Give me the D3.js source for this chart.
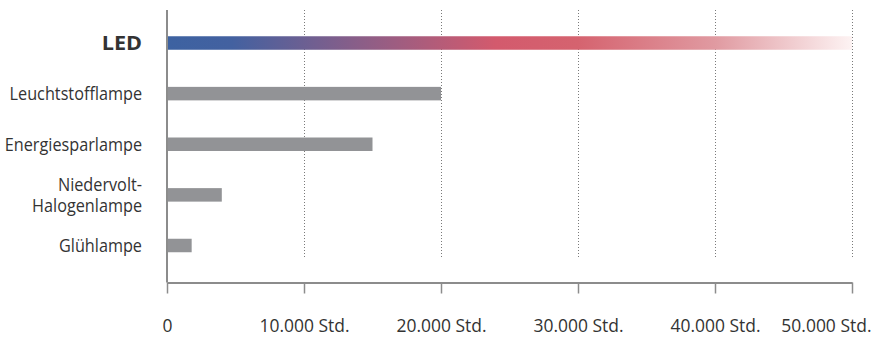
<!DOCTYPE html>
<html>
<head>
<meta charset="utf-8">
<script src="https://cdn.jsdelivr.net/npm/d3@7"></script>
<style>
  html, body { margin: 0; padding: 0; background: #fff; }
  svg { display: block; }
  text { font-family: "Open Sans", sans-serif; fill: #333; }
</style>
</head>
<body>
<svg id="chart" width="874" height="338"></svg>
<script>
// ---- data ----
const categories = ["LED", "Leuchtstofflampe", "Energiesparlampe", "Niedervolt-\nHalogenlampe", "Glühlampe"];
const hours = [50000, 20000, 15000, 4000, 1800];
const tickValues = [0, 10000, 20000, 30000, 40000, 50000];
const tickLabels = ["0", "10.000 Std.", "20.000 Std.", "30.000 Std.", "40.000 Std.", "50.000 Std."];
const gradientStops = [
  [0.00, "#3d62a1"],
  [0.095, "#4361a0"],
  [0.28, "#8a5e88"],
  [0.48, "#d35a6d"],
  [0.60, "#d5636f"],
  [0.80, "#e09aa1"],
  [1.00, "#fdf3f3"]
];

const svg = d3.select("#chart");
const x = d3.scaleLinear().domain([0, 50000]).range([167, 852]);
const y = d3.scalePoint().domain(categories).range([43, 245.5]);
const barH = 13.5;
const axisY = 282.5;

// gradient
const defs = svg.append("defs");
const grad = defs.append("linearGradient").attr("id", "ledGrad")
  .attr("gradientUnits", "userSpaceOnUse")
  .attr("x1", x(0)).attr("x2", x(hours[0])).attr("y1", 0).attr("y2", 0);
grad.selectAll("stop").data(gradientStops).join("stop")
  .attr("offset", d => d[0]).attr("stop-color", d => d[1]);

// grid lines
svg.append("g").selectAll("line").data(tickValues.slice(1)).join("line")
  .attr("x1", d => Math.round(x(d)) + 0.5).attr("x2", d => Math.round(x(d)) + 0.5)
  .attr("y1", 10).attr("y2", 259)
  .attr("stroke", "#7a7a7a").attr("stroke-width", 1).attr("stroke-dasharray", "1,2");

// bars
svg.append("g").selectAll("rect").data(categories).join("rect")
  .attr("x", x(0))
  .attr("y", d => y(d) - barH / 2)
  .attr("width", (d, i) => x(hours[i]) - x(0))
  .attr("height", barH)
  .attr("fill", (d, i) => i === 0 ? "url(#ledGrad)" : "#929396");

// vertical axis line
svg.append("line")
  .attr("x1", x(0)).attr("x2", x(0)).attr("y1", 10).attr("y2", axisY)
  .attr("stroke", "#8c8c8c").attr("stroke-width", 2);

// bottom axis
const xAxis = d3.axisBottom(x).tickValues(tickValues)
  .tickSize(11).tickSizeOuter(0)
  .tickFormat((d, i) => tickLabels[i]);
const gx = svg.append("g").attr("transform", `translate(0,${axisY})`).call(xAxis);
gx.select(".domain").attr("stroke", "#8c8c8c").attr("stroke-width", 2);
gx.selectAll(".tick line").attr("stroke", "#8c8c8c").attr("stroke-width", 1.5);
const tickSX = 0.92;
gx.selectAll(".tick text")
  .attr("y", 49.5).attr("dy", null)
  .attr("transform", `scale(${tickSX},1)`)
  .style("font-family", "'Open Sans', sans-serif")
  .style("font-size", "19px").attr("fill", "#333");
// last label is pulled inside the right edge
gx.selectAll(".tick text").filter((d, i, n) => i === n.length - 1)
  .attr("text-anchor", "end").attr("x", (871 - x(50000)) / tickSX);

// category labels
const labelRight = 142;
const lg = svg.append("g").selectAll("g").data(categories).join("g")
  .attr("transform", (d, i) => `translate(${labelRight},${y(d)}) scale(${i === 0 ? 1.08 : 0.855},1)`);
lg.append("text")
  .attr("text-anchor", "end")
  .style("font-size", (d, i) => i === 0 ? "20px" : "19px")
  .style("font-weight", (d, i) => i === 0 ? "700" : "400")
  .each(function(d) {
    const lines = d.split("\n");
    const t = d3.select(this);
    const lh = 1.14;
    const off = -(lines.length - 1) / 2 * lh;
    lines.forEach((ln, j) => {
      t.append("tspan").attr("x", 0)
        .attr("dy", j === 0 ? (off + 0.35) + "em" : lh + "em")
        .text(ln);
    });
  });
</script>
</body>
</html>
